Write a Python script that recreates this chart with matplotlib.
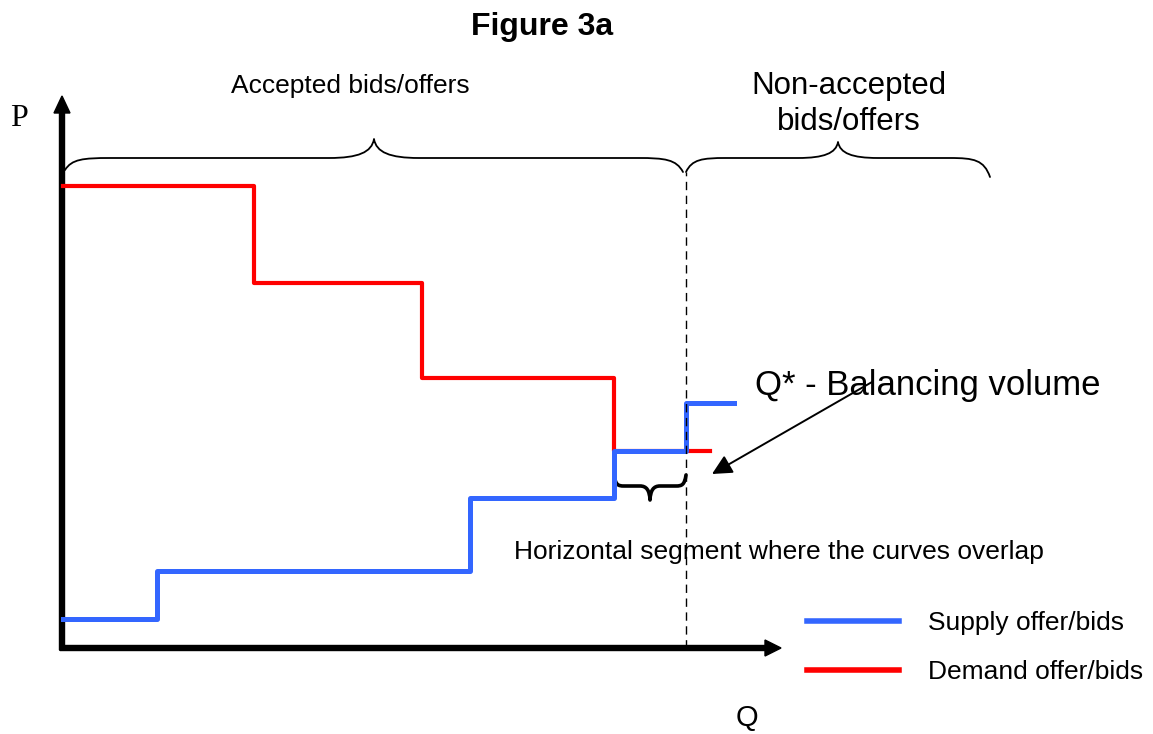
import matplotlib.pyplot as plt
from matplotlib.path import Path
from matplotlib.patches import PathPatch

plt.rcParams['font.family'] = ['Liberation Sans', 'DejaVu Sans']

# step curves: quantity breakpoints and price level of each step
supply_q = [0, 94, 407, 551, 623, 671]
supply_p = [29, 77, 150, 197, 245, 245]
demand_q = [0, 191, 359, 551, 647]
demand_p = [462, 365, 270, 197, 197]

q_star = 623          # balancing volume
overlap = (551, 623)  # horizontal segment shared by both curves

blue = "#3366ff"
red = "#ff0000"


def brace(ax, x0, x1, y_end0, y_end1, y_flat, y_tip, r, lw):
    """curly brace from x0 to x1, tip in the middle (tip side = sign of y_tip-y_flat)"""
    xm = (x0 + x1) / 2
    verts = [
        (x0, y_end0),
        (x0 + 0.15 * r, y_end0 + 0.9 * (y_flat - y_end0)), (x0 + 0.4 * r, y_flat), (x0 + r, y_flat),
        (xm - r, y_flat),
        (xm - 0.35 * r, y_flat), (xm - 0.05 * r, y_flat + 0.3 * (y_tip - y_flat)), (xm, y_tip),
        (xm + 0.05 * r, y_flat + 0.3 * (y_tip - y_flat)), (xm + 0.35 * r, y_flat), (xm + r, y_flat),
        (x1 - r, y_flat),
        (x1 - 0.4 * r, y_flat), (x1 - 0.15 * r, y_end1 + 0.9 * (y_flat - y_end1)), (x1, y_end1),
    ]
    codes = [Path.MOVETO,
             Path.CURVE4, Path.CURVE4, Path.CURVE4,
             Path.LINETO,
             Path.CURVE4, Path.CURVE4, Path.CURVE4,
             Path.CURVE4, Path.CURVE4, Path.CURVE4,
             Path.LINETO,
             Path.CURVE4, Path.CURVE4, Path.CURVE4]
    ax.add_patch(PathPatch(Path(verts, codes), fill=False, lw=lw, color="black",
                           capstyle="round", joinstyle="round", clip_on=False))


fig = plt.figure(figsize=(11.53, 7.34), dpi=100)
ax = fig.add_axes([0, 0, 1, 1])
ax.set_xlim(-63, 1090)
ax.set_ylim(-86, 648)
ax.axis("off")

# curves
ax.plot(demand_q, demand_p, drawstyle="steps-post", color=red, lw=3, label="Demand offer/bids")
ax.plot(supply_q, supply_p, drawstyle="steps-post", color=blue, lw=3.6, label="Supply offer/bids")

# Q* marker
ax.plot([q_star, q_star], [0, 476], color="black", lw=1, ls=(0, (6, 4)))

# axes with arrows
ax.arrow(-1, -2, 0, 554, width=5, head_width=16, head_length=17,
         length_includes_head=True, color="black")
ax.arrow(-3, 0, 721, 0, width=5, head_width=16, head_length=16,
         length_includes_head=True, color="black")

# braces
brace(ax, 2, 620, 478, 476, 490, 509, 45, 1.3)
brace(ax, 623, 927, 476, 471, 490, 506, 40, 1.3)
brace(ax, overlap[0], overlap[1], 173, 173, 162, 148, 10, 2.6)

ax.annotate("", xy=(649, 174), xytext=(809, 266),
            arrowprops=dict(arrowstyle="-|>", lw=1.4, color="black",
                            mutation_scale=30, shrinkA=0, shrinkB=0))

# labels
ax.text(479, 621, "Figure 3a", ha="center", va="center", fontsize=23, fontweight="bold")
ax.text(287, 562, "Accepted bids/offers", ha="center", va="center", fontsize=19)
ax.text(786, 544, "Non-accepted\nbids/offers", ha="center", va="center", fontsize=22.5,
        linespacing=1.25)
ax.text(692, 262, "Q* - Balancing volume", ha="left", va="center", fontsize=25)
ax.text(451, 96, "Horizontal segment where the curves overlap", ha="left", va="center",
        fontsize=19)
ax.text(-44, 529, "P", ha="center", va="center", fontsize=23, family="Liberation Serif")
ax.text(684, -70, "Q", ha="center", va="center", fontsize=21)

handles, labels = ax.get_legend_handles_labels()
leg = ax.legend(handles[::-1], labels[::-1], loc="upper left",
                bbox_to_anchor=(807 / 1153, 1 - 611 / 734), frameon=False,
                fontsize=19, handlelength=3.5, handletextpad=1.1, labelspacing=0.95,
                borderpad=0, borderaxespad=0)
for line in leg.get_lines():
    line.set_linewidth(4)

fig.savefig("out.png", dpi=100)
